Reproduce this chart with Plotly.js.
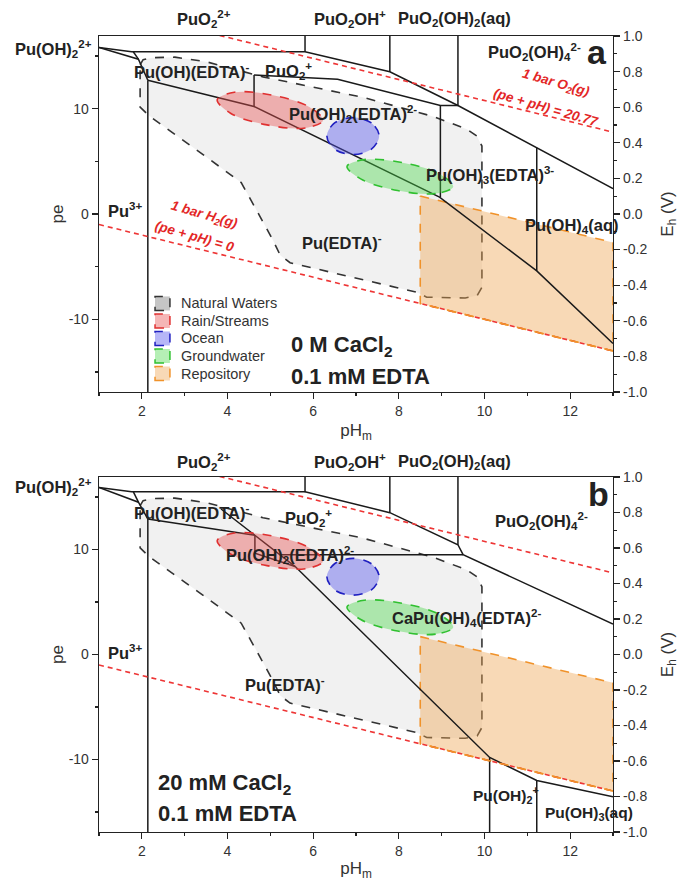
<!DOCTYPE html>
<html><head><meta charset="utf-8">
<script src="https://cdn.plot.ly/plotly-3.0.1.min.js"></script>
<style>html,body{margin:0;padding:0;background:#fff}#chart{width:684px;height:881px}</style>
</head><body><div id="chart"></div>
<script>
// ---------- data (pH, pe) ----------
const legendNames = ["Natural Waters", "Rain/Streams", "Ocean", "Groundwater", "Repository"];

// Natural waters envelope
const nwX = [1.96, 2.03, 2.24, 2.77, 3.50, 4.83, 6.00, 7.16, 8.80, 9.59, 9.82, 9.94, 9.94, 9.83, 9.55, 8.65, 8.42, 5.46, 5.23, 5.06, 4.76, 4.32, 3.48, 2.17, 1.96, 1.96];
const nwY = [14.17, 14.65, 14.84, 14.89, 14.46, 13.02, 12.04, 11.08, 9.26, 8.05, 7.41, 6.45, -6.95, -7.74, -7.98, -7.90, -7.43, -4.63, -3.91, -2.48, -0.25, 2.98, 5.49, 9.32, 10.15, 14.17];
// Rain / streams
const rainX = [6.23, 5.82, 4.92, 4.07, 3.76, 4.16, 5.06, 5.91, 6.23];
const rainY = [8.88, 8.17, 8.46, 9.57, 10.85, 11.56, 11.27, 10.16, 8.88];
// Ocean
const oceanX = [7.54, 7.36, 6.93, 6.50, 6.32, 6.50, 6.93, 7.36, 7.54];
const oceanY = [7.40, 8.64, 9.15, 8.64, 7.40, 6.16, 5.65, 6.16, 7.40];
// Groundwater
const gwX = [9.27, 8.86, 7.97, 7.11, 6.79, 7.19, 8.09, 8.95, 9.27];
const gwY = [2.59, 1.94, 2.23, 3.33, 4.52, 5.16, 4.87, 3.80, 2.59];
// Repository
const repX = [8.5, 13, 13, 8.5, 8.5];
const repY = [1.7, -2.7, -13, -8.5, 1.7];

// water stability lines
const o2X = [3, 13], o2Y = [17.77, 7.77];   // pe + pH = 20.77
const h2X = [1, 13], h2Y = [-1, -13];       // pe + pH = 0

// phase boundaries, panel a (0 M CaCl2)
const aLinesX = [1,1.76,5.81,7.79,9.38,13, null, 1,1.92,2.14, null, 1.8,1.92, null, 2.14,2.14, null,
  2.14,4.62,8.95,11.22,13, null, 4.62,6.57,8.97,9.38, null, 4.62,4.62, null, 8.97,8.97, null,
  11.22,11.22, null, 5.81,5.81, null, 7.79,7.79, null, 9.38,9.38];
const aLinesY = [15.8,15.4,15.4,13.5,10.3,2.4, null, 15.8,14.7,12.7, null, 15.4,14.7, null, 12.7,-16.9, null,
  12.7,10.2,1.6,-5.4,-12.3, null, 13.2,12.8,10.3,10.3, null, 13.2,10.2, null, 10.3,1.6, null,
  6.28,-5.4, null, 16.9,15.4, null, 16.9,13.5, null, 16.9,10.3];

// phase boundaries, panel b (20 mM CaCl2)
const bLinesX = [1,1.76,5.81,7.79,9.38,9.5,13, null, 1,1.92,2.14, null, 1.8,1.92, null, 2.14,2.14, null,
  2.14,4.64, null, 3.85,4.64,5.58,10.12,11.22,13, null, 4.64,4.64,5.58, null, 5.22,9.5, null,
  10.12,10.12, null, 11.22,11.22, null, 5.81,5.81, null, 7.79,7.79, null, 9.38,9.38];
const bLinesY = [15.9,15.5,15.5,13.5,10.45,9.5,2.9, null, 15.9,14.5,12.9, null, 15.5,14.5, null, 12.9,-16.9, null,
  12.9,11.35, null, 13.85,11.35,8.37,-9.8,-12.0,-13.55, null, 11.35,9.64,8.37, null, 9.5,9.5, null,
  -9.8,-16.9, null, -12.0,-16.9, null, 16.9,15.45, null, 16.9,13.5, null, 16.9,10.45];

// axis ticks
const xTicks = [2, 4, 6, 8, 10, 12];
const xMinor = [1, 3, 5, 7, 9, 11, 13];
const peTicks = [-10, 0, 10], peText = ["-10", "0", "10"];
const peMinor = [-15, -5, 5, 15];
const ehTicks = [-1, -0.8, -0.6, -0.4, -0.2, 0, 0.2, 0.4, 0.6, 0.8, 1];
const ehText = ["-1.0", "-0.8", "-0.6", "-0.4", "-0.2", "0.0", "0.2", "0.4", "0.6", "0.8", "1.0"];
const ehMinor = [-0.9, -0.7, -0.5, -0.3, -0.1, 0.1, 0.3, 0.5, 0.7, 0.9];

// ---------- styles ----------
const PE = 16.9;
const FONT = "Arial, Liberation Sans, sans-serif";
const styles = {
  nw:   {fill: "rgba(170,170,170,0.16)", line: "#333333", sym: "rgba(150,150,150,0.55)"},
  rain: {fill: "rgba(232,80,80,0.42)",   line: "#e03030", sym: "rgba(232,80,80,0.42)"},
  ocean:{fill: "rgba(80,80,235,0.42)",   line: "#2020c0", sym: "rgba(80,80,235,0.42)"},
  gw:   {fill: "rgba(70,215,70,0.40)",   line: "#30c030", sym: "rgba(70,215,70,0.40)"},
  rep:  {fill: "rgba(238,165,80,0.42)",  line: "#f0922a", sym: "rgba(238,165,80,0.42)"}
};

function region(x, y, st, xa, ya, smooth) {
  return {type: "scatter", mode: "lines", x: x, y: y, xaxis: xa, yaxis: ya, fill: "toself",
    fillcolor: st.fill, line: {color: st.line, width: 1.6, dash: "dash", shape: smooth ? "spline" : "linear"},
    showlegend: false, hoverinfo: "skip"};
}

function panel(xa, ya, linesX, linesY) {
  return [
    region(nwX, nwY, styles.nw, xa, ya, false),
    region(repX, repY, styles.rep, xa, ya, false),
    {type: "scatter", mode: "lines", x: linesX, y: linesY, xaxis: xa, yaxis: ya,
      line: {color: "#1a1a1a", width: 1.5}, showlegend: false, hoverinfo: "skip", connectgaps: false},
    region(rainX, rainY, styles.rain, xa, ya, true),
    region(oceanX, oceanY, styles.ocean, xa, ya, true),
    region(gwX, gwY, styles.gw, xa, ya, true),
    {type: "scatter", mode: "lines", x: o2X, y: o2Y, xaxis: xa, yaxis: ya,
      line: {color: "#ee3535", width: 1.6, dash: "5px,4px"}, showlegend: false, hoverinfo: "skip"},
    {type: "scatter", mode: "lines", x: h2X, y: h2Y, xaxis: xa, yaxis: ya,
      line: {color: "#ee3535", width: 1.6, dash: "5px,4px"}, showlegend: false, hoverinfo: "skip"},
    {type: "scatter", mode: "lines", x: repX.slice(2, 4), y: repY.slice(2, 4), xaxis: xa, yaxis: ya,
      line: {color: styles.rep.line, width: 1.6, dash: "dash"}, showlegend: false, hoverinfo: "skip"}
  ];
}

const traces = [].concat(panel("x", "y", aLinesX, aLinesY), panel("x2", "y3", bLinesX, bLinesY));
// right-axis anchors
traces.push({type: "scatter", x: [null], y: [null], xaxis: "x", yaxis: "y2", showlegend: false, hoverinfo: "skip"});
traces.push({type: "scatter", x: [null], y: [null], xaxis: "x2", yaxis: "y4", showlegend: false, hoverinfo: "skip"});

// ---------- axes ----------
const tickFont = {family: FONT, size: 14, color: "#333"};
function xAxis(anchor) {
  return {anchor: anchor, domain: [0, 1], range: [1, 13], tickvals: xTicks, ticks: "outside", ticklen: 6,
    tickwidth: 1.2, tickcolor: "#222", showline: true, linecolor: "#222", linewidth: 1.3, mirror: true,
    showgrid: false, zeroline: false, tickfont: tickFont,
    minor: {tickvals: xMinor, ticks: "outside", ticklen: 3, tickcolor: "#222", showgrid: false},
    title: {text: "pH<sub>m</sub>", font: {family: FONT, size: 17, color: "#333"}, standoff: 6}};
}
function peAxis(domain, anchor) {
  return {domain: domain, anchor: anchor, range: [-PE, PE], tickvals: peTicks, ticktext: peText,
    ticks: "outside", ticklen: 6, tickwidth: 1.2, tickcolor: "#222", showline: true, linecolor: "#222",
    linewidth: 1.3, mirror: true, showgrid: false, zeroline: false, tickfont: tickFont,
    minor: {tickvals: peMinor, ticks: "outside", ticklen: 3, tickcolor: "#222", showgrid: false},
    title: {text: "pe", font: {family: FONT, size: 17, color: "#333"}, standoff: 0}};
}
function ehAxis(over, anchor) {
  return {overlaying: over, anchor: anchor, side: "right", range: [-1, 1], tickvals: ehTicks, ticktext: ehText,
    ticks: "outside", ticklen: 6, tickwidth: 1.2, tickcolor: "#222", showline: true, linecolor: "#222",
    linewidth: 1.3, showgrid: false, zeroline: false, tickfont: tickFont,
    minor: {tickvals: ehMinor, ticks: "outside", ticklen: 3, tickcolor: "#222", showgrid: false},
    title: {text: "E<sub>h</sub> (V)", font: {family: FONT, size: 17, color: "#333"}, standoff: 14}};
}

// ---------- annotations ----------
function lab(text, x, y, panelB, o) {
  o = o || {};
  const size = o.size || 16.5;
  let t = o.bold === false ? text : "<b>" + text + "</b>";
  if (o.italic) t = "<i>" + t + "</i>";
  return {text: t, x: x, y: y, xref: o.xref || (panelB ? "x2" : "x"), yref: o.yref || (panelB ? "y3" : "y"),
    showarrow: false, xanchor: o.xanchor || "center", yanchor: "middle", textangle: o.angle || 0,
    font: {family: FONT, size: size, color: o.color || "#222"}};
}
const red = "#e32626";
const annotations = [
  // panel a
  lab("PuO<sub>2</sub><sup>2+</sup>", 3.45, 1.0214, false, {yref: "paper"}),
  lab("PuO<sub>2</sub>OH<sup>+</sup>", 6.85, 1.0214, false, {yref: "paper"}),
  lab("PuO<sub>2</sub>(OH)<sub>2</sub>(aq)", 9.31, 1.0214, false, {yref: "paper"}),
  lab("Pu(OH)<sub>2</sub><sup>2+</sup>", -0.088, 15.7, false, {xref: "paper"}),
  lab("PuO<sub>2</sub>(OH)<sub>4</sub><sup>2-</sup>", 11.16, 15.4, false),
  lab("a", 12.62, 15.4, false, {size: 34}),
  lab("Pu(OH)(EDTA)<sup>-</sup>", 3.17, 13.6, false),
  lab("PuO<sub>2</sub><sup>+</sup>", 5.42, 13.6, false),
  lab("Pu(OH)<sub>2</sub>(EDTA)<sup>2-</sup>", 6.93, 9.5, false),
  lab("Pu(OH)<sub>3</sub>(EDTA)<sup>3-</sup>", 10.13, 3.74, false),
  lab("Pu(OH)<sub>4</sub>(aq)", 12.05, -1.14, false),
  lab("Pu<sup>3+</sup>", 1.63, 0.4, false),
  lab("Pu(EDTA)<sup>-</sup>", 6.68, -2.7, false),
  lab("0 M CaCl<sub>2</sub>", 5.44, -12.5, false, {size: 22, xanchor: "left"}),
  lab("0.1 mM EDTA", 5.44, -15.4, false, {size: 22, xanchor: "left"}),
  lab("1 bar O<sub>2</sub>(g)", 11.67, 12.35, false, {size: 13.5, italic: true, color: red, angle: 16}),
  lab("(pe + pH) = 20.77", 11.44, 10.15, false, {size: 13.5, italic: true, color: red, angle: 16}),
  lab("1 bar H<sub>2</sub>(g)", 3.47, -0.1, false, {size: 13.5, italic: true, color: red, angle: 16}),
  lab("(pe + pH) = 0", 3.24, -2.1, false, {size: 13.5, italic: true, color: red, angle: 16}),
  // panel b
  lab("PuO<sub>2</sub><sup>2+</sup>", 3.45, 0.4648, true, {yref: "paper"}),
  lab("PuO<sub>2</sub>OH<sup>+</sup>", 6.85, 0.4648, true, {yref: "paper"}),
  lab("PuO<sub>2</sub>(OH)<sub>2</sub>(aq)", 9.31, 0.4648, true, {yref: "paper"}),
  lab("Pu(OH)<sub>2</sub><sup>2+</sup>", -0.088, 15.9, true, {xref: "paper"}),
  lab("b", 12.65, 15.3, true, {size: 34}),
  lab("PuO<sub>2</sub>(OH)<sub>4</sub><sup>2-</sup>", 11.32, 12.7, true),
  lab("Pu(OH)(EDTA)<sup>-</sup>", 3.17, 13.6, true),
  lab("PuO<sub>2</sub><sup>+</sup>", 5.89, 13.0, true),
  lab("Pu(OH)<sub>2</sub>(EDTA)<sup>2-</sup>", 5.47, 9.5, true),
  lab("CaPu(OH)<sub>4</sub>(EDTA)<sup>2-</sup>", 9.59, 3.45, true),
  lab("Pu<sup>3+</sup>", 1.63, 0.24, true),
  lab("Pu(EDTA)<sup>-</sup>", 5.34, -2.8, true),
  lab("20 mM CaCl<sub>2</sub>", 2.32, -12.3, true, {size: 22, xanchor: "left"}),
  lab("0.1 mM EDTA", 2.32, -15.1, true, {size: 22, xanchor: "left"}),
  lab("Pu(OH)<sub>2</sub><sup>+</sup>", 11.32, -13.4, true, {size: 15.5, xanchor: "right"}),
  lab("Pu(OH)<sub>3</sub>(aq)", 11.37, -15.1, true, {size: 15.5, xanchor: "left"})
];

// ---------- hand-built legend (panel a) ----------
const legStyles = [styles.nw, styles.rain, styles.ocean, styles.gw, styles.rep];
const legRowsY = [0.6640, 0.6420, 0.6200, 0.5980, 0.5760];
const shapes = [];
legendNames.forEach((n, i) => {
  const yc = legRowsY[i];
  shapes.push({type: "rect", xref: "paper", yref: "paper", x0: 0.109, x1: 0.138, y0: yc - 0.0088, y1: yc + 0.0088,
    fillcolor: legStyles[i].sym, line: {color: legStyles[i].line, width: 1.5, dash: "dash"}, layer: "above"});
  annotations.push({text: n, xref: "paper", yref: "paper", x: 0.1556, y: yc, xanchor: "left", yanchor: "middle",
    showarrow: false, font: {family: FONT, size: 14.5, color: "#333"}});
});

const layout = {
  width: 684, height: 881,
  margin: {l: 99, r: 71, t: 36, b: 49},
  paper_bgcolor: "#fff", plot_bgcolor: "rgba(0,0,0,0)",
  font: {family: FONT, color: "#222"},
  showlegend: false,
  xaxis: xAxis("y"),
  yaxis: peAxis([0.5528, 1], "x"),
  yaxis2: ehAxis("y", "x"),
  xaxis2: xAxis("y3"),
  yaxis3: peAxis([0, 0.446], "x2"),
  yaxis4: ehAxis("y3", "x2"),
  annotations: annotations,
  shapes: shapes,
  hovermode: false
};

Plotly.newPlot("chart", traces, layout, {displayModeBar: false, staticPlot: true});
</script></body></html>
